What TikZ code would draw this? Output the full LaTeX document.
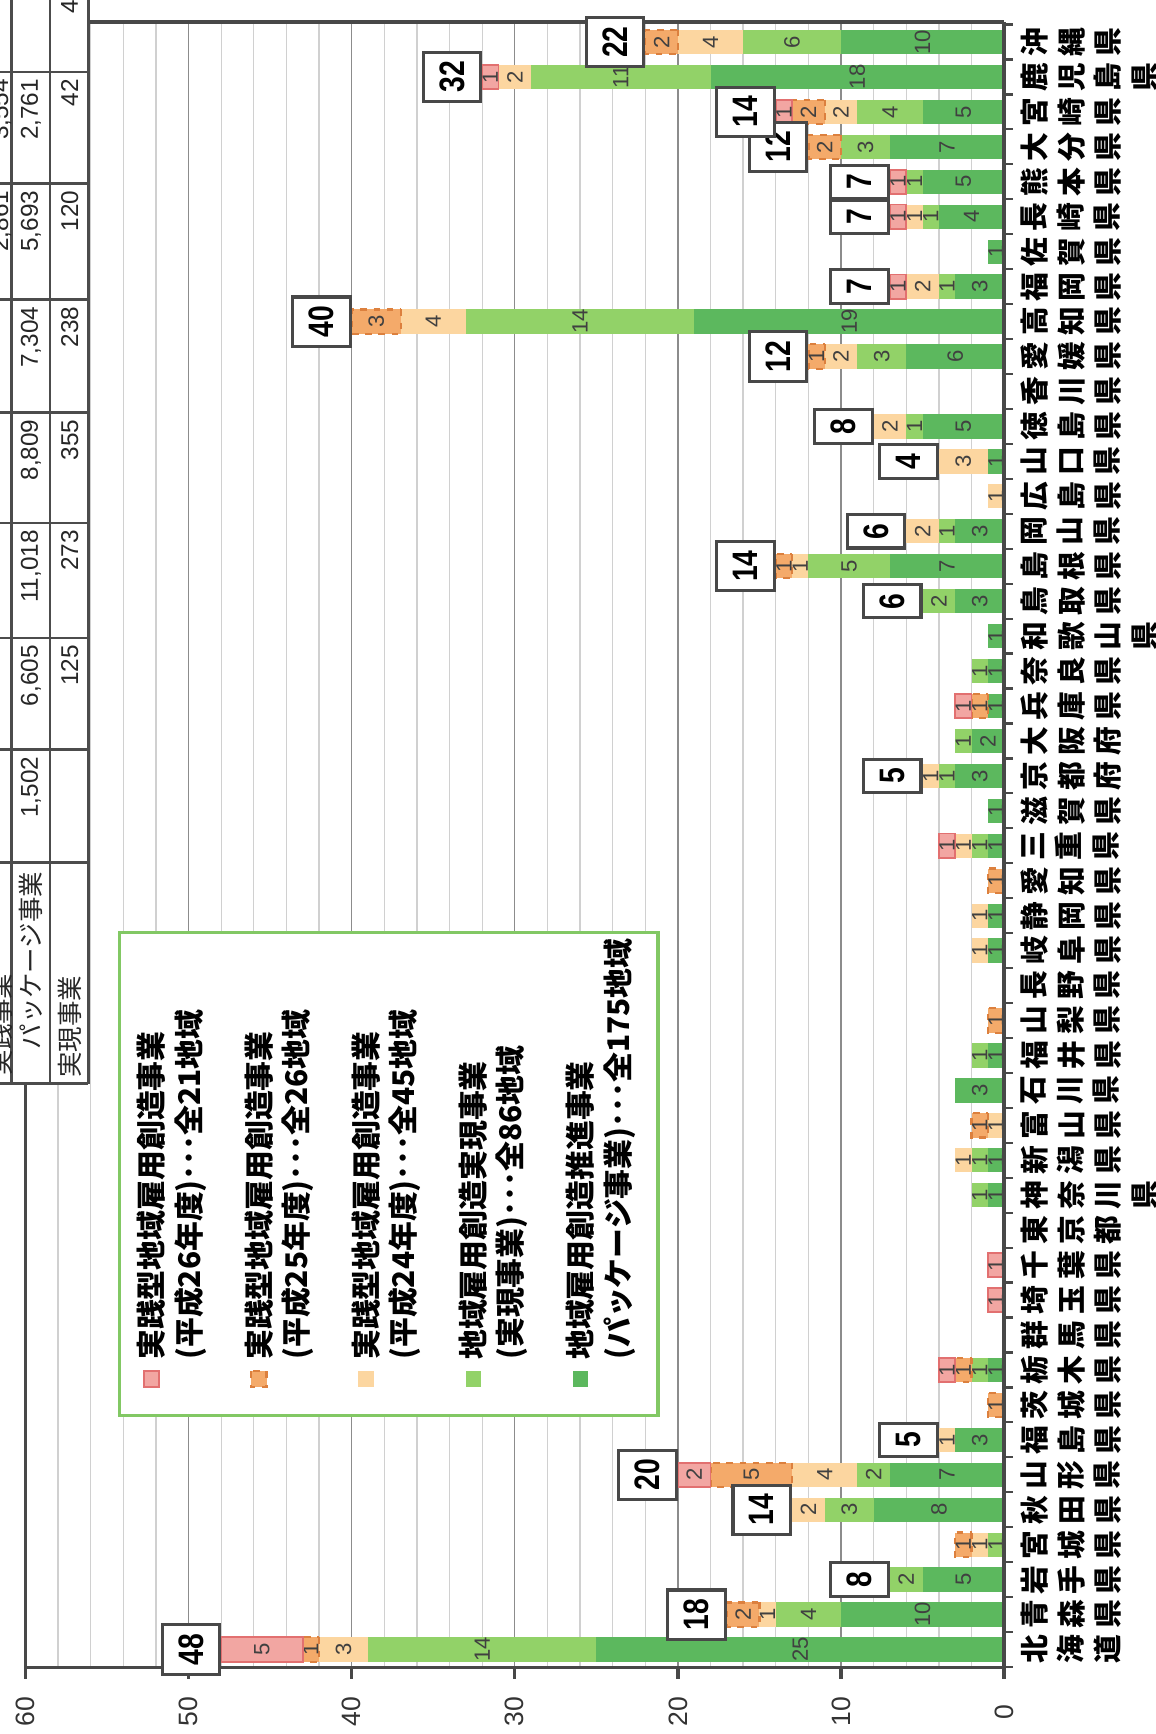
\documentclass[tikz,border=0pt]{standalone}
\usepackage{fontspec}
\setmainfont{Liberation Sans}
\newfontfamily\jp{Noto Sans CJK JP}
\newfontfamily\boxfont[FakeStretch=0.8]{Liberation Sans}

\definecolor{pkgGreen}{RGB}{92,184,94}
\definecolor{jitGreen}{RGB}{146,210,104}
\definecolor{hOrLight}{RGB}{252,214,160}
\definecolor{hOrange}{RGB}{244,170,106}
\definecolor{hOrEdge}{RGB}{220,128,62}
\definecolor{hPink}{RGB}{242,166,162}
\definecolor{hPinkEdge}{RGB}{226,112,112}
\definecolor{axisGray}{RGB}{72,72,72}
\definecolor{gridGray}{RGB}{208,208,208}
\definecolor{legGreen}{RGB}{130,200,100}

\pgfdeclarelayer{fg}
\pgfsetlayers{main,fg}

% one stacked segment: from, to, style, value, node name
\newcommand{\seg}[5]{%
  \ifnum#4>0
    \path[#3] ({908-14.75*#1},\yc-11) rectangle ({908-14.75*#2},\yc+11);
    \node[seglbl] (#5) at ({908-14.75*(#1+#2)/2},\yc) {#4};
  \fi}

\begin{document}
\begin{tikzpicture}[x=0.5pt,y=-0.5pt,
    gridline/.style={draw=gridGray,line width=0.6pt},
    gridmajor/.style={draw=black!45,line width=0.6pt},
    axisline/.style={draw=axisGray,line width=1.5pt},
    segDG/.style={fill=pkgGreen},
    segLG/.style={fill=jitGreen},
    segPO/.style={fill=hOrLight},
    segOR/.style={fill=hOrange,draw=hOrEdge,dashed,line width=1pt},
    segPK/.style={fill=hPink,draw=hPinkEdge,line width=0.8pt},
    seglbl/.style={rotate=90,inner sep=0pt,text=black!75,font=\fontsize{10}{10}\selectfont},
    totbox/.style={draw=axisGray,line width=1.4pt,fill=white,rotate=90,anchor=south,
      minimum height=26pt,inner xsep=4pt,inner ysep=1pt,font=\boxfont\bfseries\fontsize{16}{16}\selectfont},
    prefname/.style={rotate=90,anchor=north,align=center,inner sep=0pt,
      font=\jp\bfseries\fontsize{13}{16.5}\selectfont},
    vallbl/.style={rotate=90,text=black!80,font=\fontsize{12}{12}\selectfont},
    legtext/.style={rotate=90,anchor=west,inner sep=0pt,font=\jp\bfseries\fontsize{13.5}{13.5}\selectfont},
    tblnum/.style={rotate=90,anchor=east,inner sep=0pt,text=black!85,font=\fontsize{11}{11}\selectfont},
    tblhead/.style={rotate=90,anchor=east,inner sep=0pt,text=black!85,font=\jp\fontsize{11.5}{11.5}\selectfont},
    tblline/.style={draw=black!70,line width=1.2pt}]

\useasboundingbox (0,0) rectangle (1045.33,1568);

% grid
\foreach \v in {2,4,...,58}
  \draw[gridline] ({908-14.75*\v},20) -- ({908-14.75*\v},1508);
\foreach \v in {10,20,...,50}
  \draw[gridmajor] ({908-14.75*\v},20) -- ({908-14.75*\v},1508);

% bars: index/package/jitsugen/H24/H25/H26/total
\foreach \i/\vdg/\vlg/\vpo/\vor/\vpk/\vtot in {0/25/14/3/1/5/48,1/10/4/1/2/0/18,2/5/2/0/0/0/8,
    3/0/1/1/1/0/0,4/8/3/2/0/0/14,5/7/2/4/5/2/20,6/3/0/1/0/0/5,7/0/0/0/1/0/0,8/1/1/0/1/1/0,
    10/0/0/0/0/1/0,11/0/0/0/0/1/0,13/1/1/0/0/0/0,14/1/1/1/0/0/0,15/0/0/1/1/0/0,16/3/0/0/0/0/0,
    17/1/1/0/0/0/0,18/0/0/0/1/0/0,20/1/0/1/0/0/0,21/1/0/1/0/0/0,22/0/0/0/1/0/0,23/1/1/1/0/1/0,
    24/1/0/0/0/0/0,25/3/1/1/0/0/5,26/2/1/0/0/0/0,27/1/0/0/1/1/0,28/1/1/0/0/0/0,29/1/0/0/0/0/0,
    30/3/2/0/0/0/6,31/7/5/1/1/0/14,32/3/1/2/0/0/6,33/0/0/1/0/0/0,34/1/0/3/0/0/4,35/5/1/2/0/0/8,
    37/6/3/2/1/0/12,38/19/14/4/3/0/40,39/3/1/2/0/1/7,40/1/0/0/0/0/0,41/4/1/1/0/1/7,
    42/5/1/0/0/1/7,43/7/3/0/2/0/12,44/5/4/2/2/1/14,45/18/11/2/0/1/32,46/10/6/4/2/0/22}{
  \pgfmathsetmacro{\yc}{1491.6-31.6*\i}
  \pgfmathsetmacro{\ea}{\vdg}
  \pgfmathsetmacro{\eb}{\ea+\vlg}
  \pgfmathsetmacro{\ec}{\eb+\vpo}
  \pgfmathsetmacro{\ed}{\ec+\vor}
  \pgfmathsetmacro{\ee}{\ed+\vpk}
  \seg{0}{\ea}{segDG}{\vdg}{dg\i}
  \seg{\ea}{\eb}{segLG}{\vlg}{lg\i}
  \seg{\eb}{\ec}{segPO}{\vpo}{po\i}
  \seg{\ec}{\ed}{segOR}{\vor}{or\i}
  \seg{\ed}{\ee}{segPK}{\vpk}{pk\i}
  \ifnum\vtot>0
    \begin{pgfonlayer}{fg}
      \node[totbox] (tot\i) at ({908-14.75*\ee},\yc) {\vtot};
    \end{pgfonlayer}
  \fi
}

% axes
\draw[axisline] (79.9,20) -- (908,20);
\draw[axisline] (908,20) -- (908,1508);
\draw[axisline] (23,1508) -- (908,1508);
\draw[axisline] (23,980) -- (23,1508);
\foreach \k in {0,...,47}
  \draw[axisline,line width=1pt] (908,{1507.4-31.6*\k}) -- (916,{1507.4-31.6*\k});
\foreach \v in {0,10,...,60}{
  \draw[axisline] ({908-14.75*\v},1508) -- ({908-14.75*\v},1518);
  \node[vallbl] (val\v) at ({908-14.75*\v},1548) {\v};
}

% prefectures
\foreach \i/\pn in {0/{北\\海\\道},1/{青\\森\\県},2/{岩\\手\\県},3/{宮\\城\\県},4/{秋\\田\\県},
    5/{山\\形\\県},6/{福\\島\\県},7/{茨\\城\\県},8/{栃\\木\\県},9/{群\\馬\\県},10/{埼\\玉\\県},
    11/{千\\葉\\県},12/{東\\京\\都},13/{神\\奈\\川\\県},14/{新\\潟\\県},15/{富\\山\\県},
    16/{石\\川\\県},17/{福\\井\\県},18/{山\\梨\\県},19/{長\\野\\県},20/{岐\\阜\\県},
    21/{静\\岡\\県},22/{愛\\知\\県},23/{三\\重\\県},24/{滋\\賀\\県},25/{京\\都\\府},
    26/{大\\阪\\府},27/{兵\\庫\\県},28/{奈\\良\\県},29/{和\\歌\\山\\県},30/{鳥\\取\\県},
    31/{島\\根\\県},32/{岡\\山\\県},33/{広\\島\\県},34/{山\\口\\県},35/{徳\\島\\県},
    36/{香\\川\\県},37/{愛\\媛\\県},38/{高\\知\\県},39/{福\\岡\\県},40/{佐\\賀\\県},
    41/{長\\崎\\県},42/{熊\\本\\県},43/{大\\分\\県},44/{宮\\崎\\県},45/{鹿\\児\\島\\県},
    46/{沖\\縄\\県}}
  \node[prefname] (pref\i) at (923,{1491.6-31.6*\i}) {\pn};

% legend
\draw[draw=legGreen,line width=1.5pt,fill=white] (108,843) rectangle (595,1280);
\foreach \k/\x/\sty/\la/\lb in {1/137/segPK/{実践型地域雇用創造事業}/{(平成26年度)･･･全21地域},
    2/234/segOR/{実践型地域雇用創造事業}/{(平成25年度)･･･全26地域},
    3/331/segPO/{実践型地域雇用創造事業}/{(平成24年度)･･･全45地域},
    4/428/segLG/{地域雇用創造実現事業}/{(実現事業)･･･全86地域},
    5/525/segDG/{地域雇用創造推進事業}/{(パッケージ事業)･･･全175地域}}{
  \path[\sty] (\x-7,1240) rectangle (\x+7,1254);
  \node[legtext] (leg\k a) at (\x,1230) {\la};
  \node[legtext] (leg\k b) at (\x+35,1230) {\lb};
}

% table pasted over the corner
\begin{scope}
  \clip (0,0) rectangle (1045.33,1568);
  \fill[white] (-10,-10) rectangle (79.9,980);
  \foreach \x in {10.6,45.2,79.9}
    \draw[tblline] (\x,-5) -- (\x,980);
  \foreach \y in {65,166,271,373,473,577,678,780,980}
    \draw[tblline] (-5,\y) -- (79.9,\y);
  \foreach \y/\n in {65/2{,}761,166/5{,}693,271/7{,}304,373/8{,}809,473/11{,}018,577/6{,}605,678/1{,}502}
    \node[tblnum] (pkg\y) at (28,\y+6) {\n};
  \foreach \y/\n in {65/42,166/120,271/238,373/355,473/273,577/125}
    \node[tblnum] (jg\y) at (63,\y+6) {\n};
  \foreach \y/\n in {65/3{,}554,166/2{,}861}
    \node[tblnum] (js\y) at (1,\y+6) {\n};
  \node[tblnum,anchor=west] (jgtop) at (63,13) {45};
  \node[tblhead] (h1) at (1,880) {実践事業};
  \node[tblhead] (h2) at (28,788) {パッケージ事業};
  \node[tblhead] (h3) at (63,882) {実現事業};
\end{scope}
\end{tikzpicture}
\end{document}
